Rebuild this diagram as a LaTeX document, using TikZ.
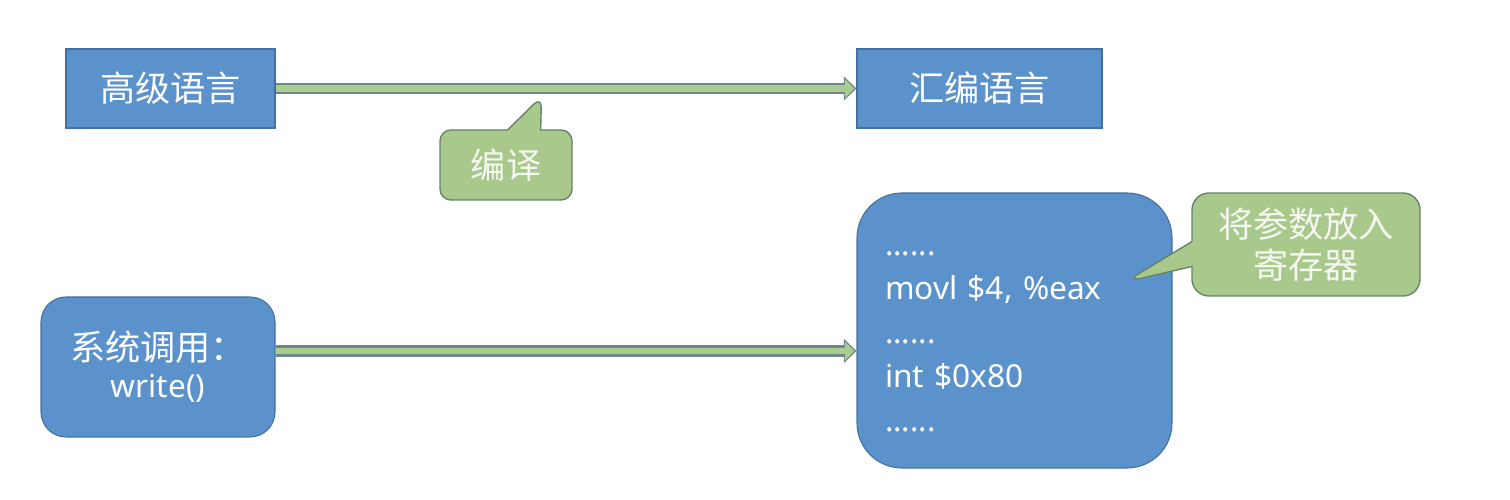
\documentclass[tikz,border=0pt]{standalone}
\usepackage{fontspec}
\setmainfont{Noto Sans}
\newfontfamily\cjkfont{Noto Sans CJK SC}
\usetikzlibrary{shapes.callouts,arrows.meta}

\definecolor{boxblue}{RGB}{91,146,203}
\definecolor{boxline}{RGB}{65,113,156}
\definecolor{notegreen}{RGB}{169,200,140}
\definecolor{noteline}{RGB}{104,132,100}
\definecolor{flowgreen}{RGB}{169,205,140}
\definecolor{flowline}{RGB}{112,134,140}

\tikzset{
  lang/.style={draw=boxline, fill=boxblue, text=white, line width=0.6pt,
    font=\cjkfont\fontsize{20}{24}\selectfont},
  note/.style={rectangle callout, draw=noteline, fill=notegreen, line width=0.8pt,
    text=white!88!notegreen, align=center, font=\cjkfont\fontsize{20}{23}\selectfont},
  flow/.style={draw=flowgreen, line width=0.13cm, shorten >=0.04cm,
    -{Triangle[length=0.19cm, width=0.38cm, line width=0pt]},
    preaction={draw=flowline, line width=0.23cm, shorten >=0pt,
      -{Triangle[length=0.25cm, width=0.48cm, line width=0pt]}}}
}

\begin{document}
\begin{tikzpicture}
\useasboundingbox (0,0) rectangle (30.2,10);

% compile step
\node[lang, minimum width=4.18cm, minimum height=1.58cm] (high) at (3.41,8.23) {高级语言};
\node[lang, minimum width=4.9cm, minimum height=1.58cm] (asm) at (19.59,8.23) {汇编语言};
\draw[flow] (high) -- (asm);

\coordinate (tipA) at (10.83,8.07);
\node[note, rounded corners=0.22cm, minimum width=2.64cm, minimum height=1.4cm,
      callout absolute pointer={(tipA)}, callout pointer width=0.66cm] (compile) at (10.12,6.7) {编译};

% system call
\node[lang, rounded corners=0.5cm, minimum width=4.68cm, minimum height=2.8cm, align=center,
      font=\fontsize{20}{21}\selectfont] (sys) at (3.16,2.66)
      {{\cjkfont 系统调用：}\\{\fontsize{18}{21}\selectfont write()}};
\node[lang, rounded corners=0.9cm, minimum width=6.3cm, minimum height=5.5cm, align=left,
      text width=5.18cm, font=\fontsize{18}{25}\selectfont] (code) at (20.29,3.39)
      {\rule{0pt}{15pt}......\\movl \$4, \%eax\\......\\int \$0x80\\......};
\draw[flow] ([yshift=0.32cm]sys.east) -- ([yshift=0.32cm]sys.east -| code.west);

\coordinate (tipB) at (22.5,4.36);
\node[note, rounded corners=0.34cm, minimum width=4.56cm, minimum height=2.06cm,
      callout absolute pointer={(tipB)}, callout pointer width=0.5cm] (regs) at (26.12,5.11)
      {将参数放入\\寄存器};
\end{tikzpicture}
\end{document}
